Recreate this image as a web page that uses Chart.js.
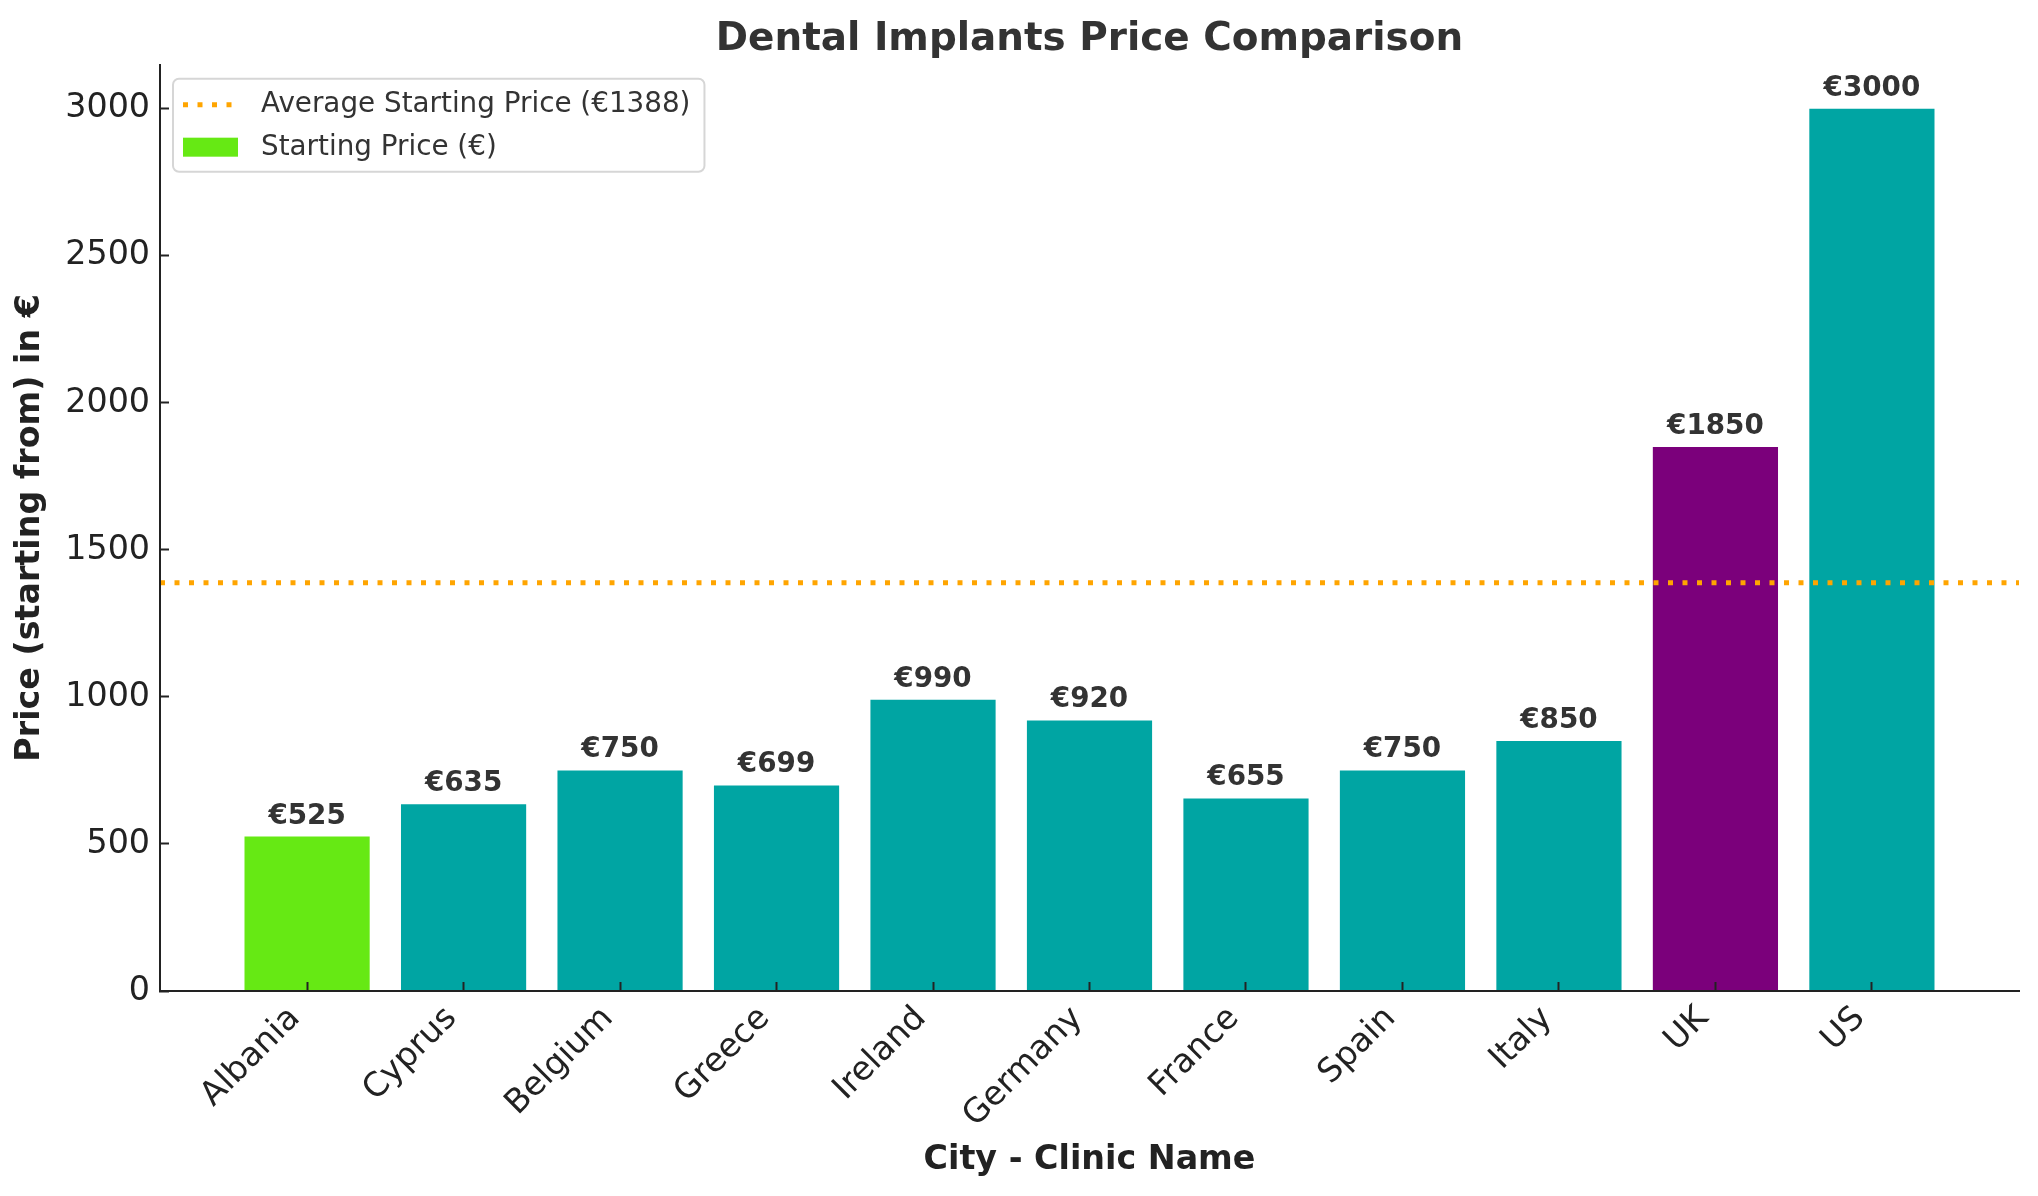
<!DOCTYPE html>
<html><head><meta charset="utf-8">
<script src="https://cdn.jsdelivr.net/npm/chart.js@4.4.1/dist/chart.umd.min.js"></script>
<style>html,body{margin:0;padding:0;background:#fff;} #wrap{width:2038px;height:1196px;position:relative;}</style>
</head><body><div id="wrap"><canvas id="c"></canvas></div>
<script>
const categories = ['Albania','Cyprus','Belgium','Greece','Ireland','Germany','France','Spain','Italy','UK','US'];
const prices = [525, 635, 750, 699, 990, 920, 655, 750, 850, 1850, 3000];
const averagePrice = 1388;
const yTicks = [0, 500, 1000, 1500, 2000, 2500, 3000];
const xRange = [-0.94, 10.94];
const yRange = [0, 3150];
const barColors = ['#66E914','#00A5A3','#00A5A3','#00A5A3','#00A5A3','#00A5A3','#00A5A3','#00A5A3','#00A5A3','#7B007B','#00A5A3'];

Chart.defaults.font.family = 'DejaVu Sans';
const FS = 27.8;
const TFS = 33.3;

const dataLabels = {
  id: 'dataLabels',
  afterDatasetsDraw(chart) {
    const meta = chart.getDatasetMeta(0);
    const ctx = chart.ctx;
    ctx.save();
    ctx.font = 'bold ' + FS + 'px "DejaVu Sans"';
    ctx.fillStyle = '#333';
    ctx.textAlign = 'center';
    ctx.textBaseline = 'alphabetic';
    meta.data.forEach((el, i) => {
      ctx.fillText('€' + prices[i], el.x, el.y - 13);
    });
    ctx.restore();
  }
};

const insideLegend = {
  id: 'insideLegend',
  afterDraw(chart) {
    const ctx = chart.ctx, ca = chart.chartArea;
    const ds = chart.data.datasets;
    ctx.save();
    ctx.font = FS + 'px "DejaVu Sans"';
    const tw = Math.max(ctx.measureText(ds[1].label).width, ctx.measureText(ds[0].label).width);
    const x0 = ca.left + 13, y0 = ca.top + 14, w = 88 + tw + 14, h = 93, r = 6;
    ctx.beginPath();
    ctx.roundRect(x0, y0, w, h, r);
    ctx.fillStyle = 'rgba(255,255,255,0.8)';
    ctx.fill();
    ctx.lineWidth = 2;
    ctx.strokeStyle = '#d6d6d6';
    ctx.stroke();
    ctx.beginPath();
    ctx.setLineDash(ds[1].borderDash);
    ctx.lineWidth = ds[1].borderWidth;
    ctx.strokeStyle = ds[1].borderColor;
    ctx.moveTo(x0 + 10, y0 + 26);
    ctx.lineTo(x0 + 65, y0 + 26);
    ctx.stroke();
    ctx.setLineDash([]);
    ctx.fillStyle = ds[0].backgroundColor[0];
    ctx.fillRect(x0 + 10, y0 + 59, 55, 19);
    ctx.fillStyle = '#333';
    ctx.textAlign = 'left';
    ctx.textBaseline = 'middle';
    ctx.fillText(ds[1].label, x0 + 88, y0 + 26);
    ctx.fillText(ds[0].label, x0 + 88, y0 + 69);
    ctx.restore();
  }
};

new Chart(document.getElementById('c'), {
  data: {
    datasets: [
      {
        type: 'bar',
        label: 'Starting Price (€)',
        data: categories.map((c, i) => ({ x: i, y: prices[i] })),
        backgroundColor: barColors,
        borderWidth: 0,
        categoryPercentage: 1,
        barPercentage: 0.8,
        order: 1
      },
      {
        type: 'line',
        label: 'Average Starting Price (€' + averagePrice + ')',
        data: xRange.map(x => ({ x: x, y: averagePrice })),
        borderColor: '#FFA500',
        borderWidth: 5,
        borderDash: [5, 9.5],
        borderCapStyle: 'butt',
        pointRadius: 0,
        fill: false,
        order: 0
      }
    ]
  },
  options: {
    responsive: true,
    maintainAspectRatio: false,
    devicePixelRatio: 1,
    animation: false,
    layout: { padding: { left: 0, right: 19, top: 0, bottom: 0 } },
    plugins: {
      legend: { display: false },
      tooltip: { enabled: false },
      title: {
        display: true,
        text: 'Dental Implants Price Comparison',
        fullSize: false,
        color: '#333',
        font: { size: 38.9, weight: 'bold', family: 'DejaVu Sans' },
        padding: { top: 17, bottom: 1 }
      }
    },
    scales: {
      x: {
        type: 'linear',
        position: 'bottom',
        min: xRange[0],
        max: xRange[1],
        offset: false,
        afterBuildTicks: s => { s.ticks = categories.map((c, i) => ({ value: i })); },
        afterFit: s => { s.height = 205; },
        ticks: {
          z: 1,
          autoSkip: false,
          minRotation: 45,
          maxRotation: 45,
          color: '#222',
          font: { size: TFS },
          padding: 17,
          labelOffset: -12,
          callback: v => categories[v]
        },
        grid: { z: 1, display: true, offset: false, drawOnChartArea: false, drawTicks: true, tickLength: -9, tickWidth: 2, tickColor: '#222' },
        border: { z: 1, display: true, color: '#222', width: 2 },
        title: {
          display: true,
          text: 'City - Clinic Name',
          color: '#222',
          font: { size: 33.3, weight: 'bold' },
          padding: { top: 0, bottom: 16 }
        }
      },
      y: {
        type: 'linear',
        position: 'left',
        min: yRange[0],
        max: yRange[1],
        afterBuildTicks: s => { s.ticks = yTicks.map(v => ({ value: v })); },
        afterFit: s => { s.width = 160; },
        ticks: { z: 1, color: '#222', font: { size: TFS }, padding: 19, callback: v => String(v) },
        grid: { z: 1, display: true, offset: false, drawOnChartArea: false, drawTicks: true, tickLength: -9, tickWidth: 2, tickColor: '#222' },
        border: { z: 1, display: true, color: '#222', width: 2 },
        title: {
          display: true,
          text: 'Price (starting from) in €',
          color: '#222',
          font: { size: 33.3, weight: 'bold' },
          padding: { top: 10, bottom: 0 }
        }
      }
    }
  },
  plugins: [dataLabels, insideLegend]
});
</script>
</body></html>
